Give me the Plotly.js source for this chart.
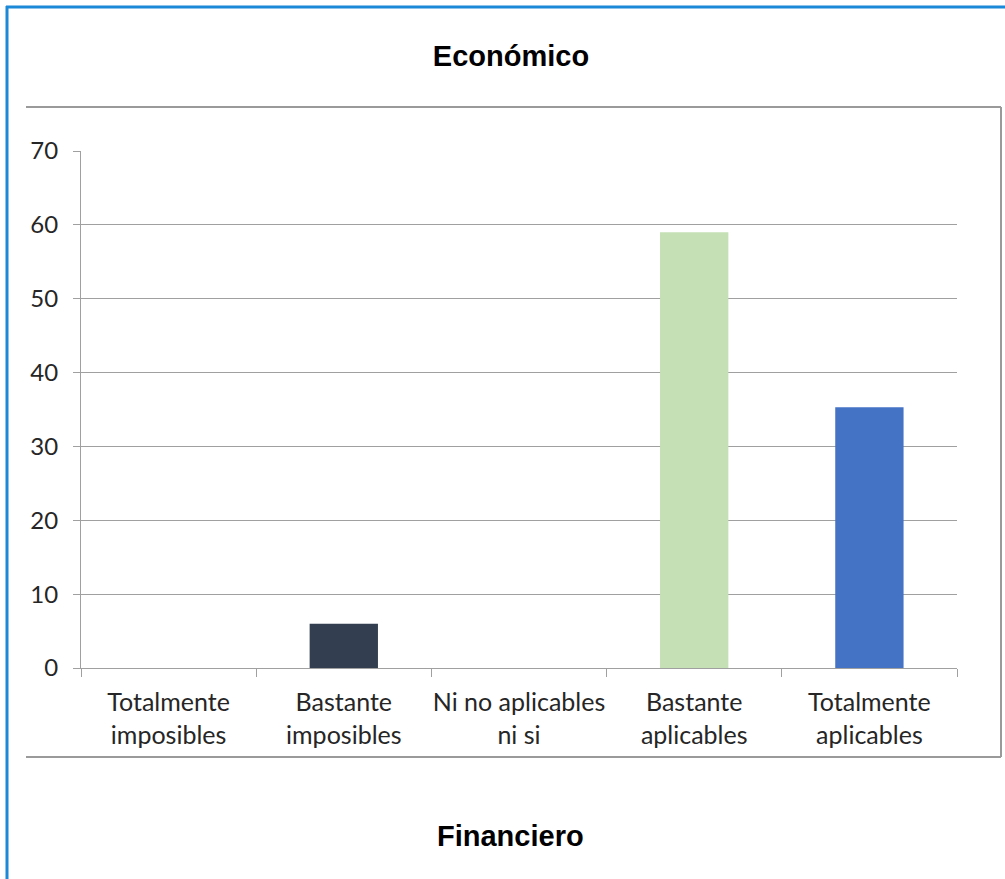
<!DOCTYPE html>
<html>
<head>
<meta charset="utf-8">
<script src="https://cdn.plot.ly/plotly-3.0.1.min.js"></script>
<style>
  html, body { margin: 0; padding: 0; background: #ffffff; }
  #chart { width: 1005px; height: 879px; }
</style>
</head>
<body>
<div id="chart"></div>
<script>
// ---- data ----
var categories = [
  "Totalmente<br>imposibles",
  "Bastante<br>imposibles",
  "Ni no aplicables<br>ni si",
  "Bastante<br>aplicables",
  "Totalmente<br>aplicables"
];
var values = [0, 6, 0, 59, 35.3];
var yTickValues = [0, 10, 20, 30, 40, 50, 60, 70];
var chartTitle = "Económico";
var secondTitle = "Financiero";

// ---- style ----
var barColors = ["#333f50", "#333f50", "#333f50", "#c5e0b4", "#4472c4"];
var gridGray = "#a0a0a0";
var frameGray = "#9a9a9a";
var blue = "#1c88d8";

var trace = {
  type: "bar",
  x: categories,
  y: values,
  marker: { color: barColors, line: { width: 0 } },
  hoverinfo: "skip"
};

// plot area: x 81..957, y 151..668
var L = 81, R = 957, T = 151, B = 668;
var W = R - L, H = B - T;
function px(x) { return (x - L) / W; }
function py(y) { return (B - y) / H; }

var layout = {
  width: 1005,
  height: 879,
  margin: { l: L, r: 1005 - R, t: T, b: 879 - B, pad: 0 },
  paper_bgcolor: "#ffffff",
  plot_bgcolor: "#ffffff",
  showlegend: false,
  bargap: 0.61,
  title: {
    text: "<b>" + chartTitle + "</b>",
    font: { family: "Liberation Sans, Arial, sans-serif", size: 29, color: "#000000" },
    x: 511 / 1005, xanchor: "center", xref: "container",
    y: 1 - 56 / 879, yanchor: "middle", yref: "container"
  },
  xaxis: {
    type: "category",
    tickson: "boundaries",
    tickangle: 0,
    ticks: "outside",
    ticklen: 8,
    tickcolor: gridGray,
    tickwidth: 1,
    showline: true,
    linecolor: gridGray,
    linewidth: 1,
    showgrid: false,
    zeroline: false,
    ticklabelstandoff: 12,
    tickfont: { family: "Lato, sans-serif", size: 25, color: "#262626" },
    fixedrange: true
  },
  yaxis: {
    range: [0, 70],
    tickvals: yTickValues,
    ticktext: yTickValues.map(String),
    ticks: "outside",
    ticklen: 7,
    tickcolor: gridGray,
    tickwidth: 1,
    showline: true,
    linecolor: gridGray,
    linewidth: 1,
    showgrid: true,
    gridcolor: gridGray,
    gridwidth: 1,
    zeroline: false,
    ticklabelstandoff: 10,
    tickfont: { family: "Lato, sans-serif", size: 24, color: "#262626" },
    fixedrange: true
  },
  annotations: [
    {
      text: "<b>" + secondTitle + "</b>",
      xref: "paper", yref: "paper",
      x: px(510), y: py(836),
      xanchor: "center", yanchor: "middle",
      showarrow: false,
      font: { family: "Liberation Sans, Arial, sans-serif", size: 29, color: "#000000" }
    }
  ],
  shapes: [
    // grey frame of the embedded chart (top, right, bottom)
    { type: "line", xref: "paper", yref: "paper", x0: px(26), x1: px(1001), y0: py(107), y1: py(107),
      line: { color: frameGray, width: 2 } },
    { type: "line", xref: "paper", yref: "paper", x0: px(1001), x1: px(1001), y0: py(107), y1: py(757),
      line: { color: frameGray, width: 2 } },
    { type: "line", xref: "paper", yref: "paper", x0: px(26), x1: px(1001), y0: py(757), y1: py(757),
      line: { color: frameGray, width: 2 } },
    // blue outer border (left and top)
    { type: "line", xref: "paper", yref: "paper", x0: px(7), x1: px(7), y0: py(6), y1: py(890),
      line: { color: blue, width: 3 } },
    { type: "line", xref: "paper", yref: "paper", x0: px(6), x1: px(1010), y0: py(7), y1: py(7),
      line: { color: blue, width: 3 } }
  ]
};

Plotly.newPlot("chart", [trace], layout, { displayModeBar: false, staticPlot: true });
</script>
</body>
</html>
